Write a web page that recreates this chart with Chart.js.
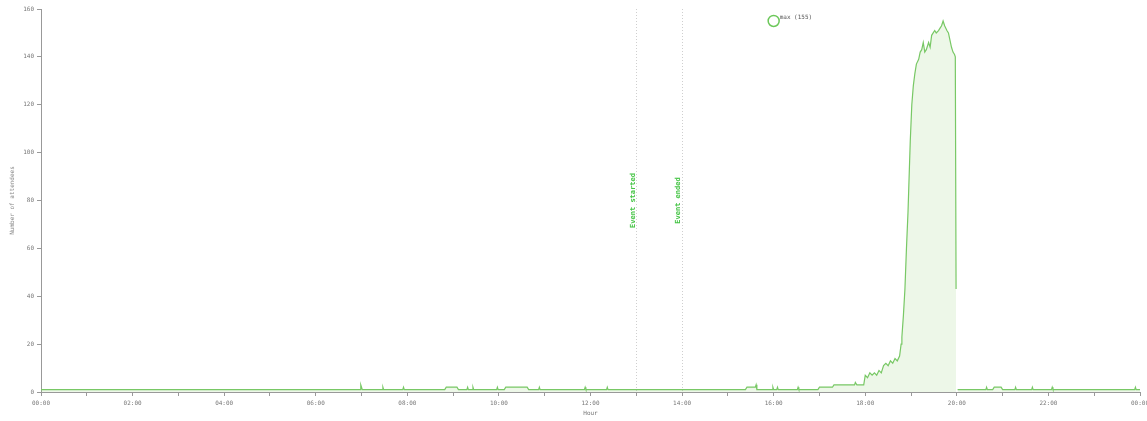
<!DOCTYPE html>
<html>
<head>
<meta charset="utf-8">
<script src="https://cdn.jsdelivr.net/npm/chart.js@4/dist/chart.umd.min.js"></script>
<style>
  body { margin: 0; background: #fff; }
  #wrap { width: 1147px; height: 421px; }
</style>
</head>
<body>
<div id="wrap"><canvas id="attendeesChart"></canvas></div>
<script>
// minutes since 00:00 and number of attendees
const minutes = [
  0, 418, 419, 421, 447, 448, 449, 474, 475, 476,
  529, 531, 545, 547, 558, 559, 560, 565, 566, 567,
  597, 598, 599, 607, 609, 637, 639, 652, 653, 654,
  712, 713, 714, 741, 742, 743, 923, 925, 936, 937, 938,
  958, 959, 960, 964, 965, 966, 991, 992, 993,
  1018, 1020, 1037, 1039, 1066, 1067, 1069, 1078,
  1080, 1083, 1086, 1089, 1092, 1095, 1098, 1101, 1104, 1107,
  1110, 1113, 1116, 1119, 1122, 1125, 1127, 1128, 1130, 1132,
  1134, 1136, 1137, 1139, 1141, 1143, 1145, 1147, 1150, 1152,
  1154, 1156, 1158, 1160, 1163, 1165, 1167, 1169, 1171, 1173,
  1176, 1178, 1180, 1182, 1184, 1187, 1189, 1191, 1193, 1195,
  1197, 1198, 1199, 1200, 1201,
  1238, 1239, 1240, 1247, 1249, 1258, 1260, 1276, 1277, 1278,
  1298, 1299, 1300, 1324, 1325, 1326, 1433, 1434, 1435, 1440
];
const attendees = [
  1, 1, 3, 1, 1, 2, 1, 1, 2, 1,
  1, 2, 2, 1, 1, 2, 1, 1, 2, 1,
  1, 2, 1, 1, 2, 2, 1, 1, 2, 1,
  1, 2, 1, 1, 2, 1, 1, 2, 2, 3, 1,
  1, 2, 1, 1, 2, 1, 1, 2, 1,
  1, 2, 2, 3, 3, 4, 3, 3,
  7, 6, 8, 7, 8, 7, 9, 8, 11, 12,
  11, 13, 12, 14, 13, 15, 20, 23, 32, 43,
  60, 75, 85, 105, 120, 128, 133, 137, 139, 142,
  143, 146, 142, 143, 146, 144, 149, 150, 151, 150,
  151, 152, 153, 155, 153, 151, 150, 147, 144, 142,
  141, 140, 43, null, 1,
  1, 2, 1, 1, 2, 2, 1, 1, 2, 1,
  1, 2, 1, 1, 2, 1, 1, 2, 1, 1
];

const maxMinute = 960;
const maxValue = 155;

const eventMinutes = [780, 840];
const eventLabels = ["Event started", "Event ended"];

const yTicks = [0, 20, 40, 60, 80, 100, 120, 140, 160];

const lineColor = "#78c865";
const textFont = "DejaVu Sans Mono";

function hourLabel(v) {
  const h = Math.round(v / 60) % 24;
  return (h < 10 ? "0" : "") + h + ":00";
}

// dotted event markers and the max label
const overlays = {
  id: "overlays",
  beforeDatasetsDraw(chart) {
    const { ctx, chartArea, scales } = chart;
    ctx.save();
    ctx.strokeStyle = "#cfcfcf";
    ctx.lineWidth = 1;
    ctx.setLineDash([1, 2]);
    eventMinutes.forEach((m) => {
      const x = Math.round(scales.x.getPixelForValue(m)) + 0.5;
      ctx.beginPath();
      ctx.moveTo(x, chartArea.top);
      ctx.lineTo(x, chartArea.bottom);
      ctx.stroke();
    });
    ctx.restore();
  },
  afterDatasetsDraw(chart) {
    const { ctx, scales } = chart;
    ctx.save();
    ctx.fillStyle = "#44c444";
    ctx.font = "bold 7px '" + textFont + "'";
    ctx.textAlign = "center";
    ctx.textBaseline = "bottom";
    eventMinutes.forEach((m, i) => {
      const x = scales.x.getPixelForValue(m);
      const y = scales.y.getPixelForValue(80);
      ctx.save();
      ctx.translate(x, y);
      ctx.rotate(-Math.PI / 2);
      ctx.fillText(eventLabels[i], 0, 0);
      ctx.restore();
    });

    ctx.fillStyle = "#555";
    ctx.font = "6px '" + textFont + "'";
    ctx.textAlign = "left";
    ctx.textBaseline = "middle";
    const mx = scales.x.getPixelForValue(maxMinute);
    const my = scales.y.getPixelForValue(maxValue);
    ctx.fillText("max (" + maxValue + ")", mx + 6, my - 4);
    ctx.restore();
  }
};

new Chart(document.getElementById("attendeesChart"), {
  type: "line",
  data: {
    datasets: [
      {
        label: "Attendees",
        data: minutes.map((m, i) => ({ x: m, y: attendees[i] })),
        borderColor: lineColor,
        backgroundColor: "rgba(150, 210, 120, 0.17)",
        borderWidth: 1.2,
        fill: "origin",
        pointRadius: 0,
        tension: 0,
        spanGaps: false
      },
      {
        type: "scatter",
        label: "max",
        data: [{ x: maxMinute, y: maxValue }],
        borderColor: "#6cc85a",
        backgroundColor: "#fff",
        borderWidth: 1.5,
        pointRadius: 5.5
      }
    ]
  },
  options: {
    responsive: true,
    maintainAspectRatio: false,
    animation: false,
    layout: { padding: { top: 9, right: 5, left: 0, bottom: 0 } },
    plugins: {
      legend: { display: false },
      tooltip: { enabled: false }
    },
    scales: {
      x: {
        type: "linear",
        min: 0,
        max: 1440,
        afterFit: (s) => {
          s.height = 29;
          s.paddingLeft = 0;
          s.paddingRight = 0;
        },
        afterBuildTicks: (s) => {
          const t = [];
          for (let v = 0; v <= 1440; v += 60) t.push({ value: v });
          s.ticks = t;
        },
        ticks: {
          autoSkip: false,
          maxRotation: 0,
          padding: 4,
          color: "#777",
          font: { family: textFont, size: 6 },
          callback: (v) => (v % 120 === 0 ? hourLabel(v) : "")
        },
        grid: { drawOnChartArea: false, tickLength: 4, color: "#999" },
        border: { color: "#999" },
        title: {
          display: true,
          text: "Hour",
          color: "#777",
          font: { family: textFont, size: 6 },
          padding: { top: 0, bottom: 4 }
        }
      },
      y: {
        min: 0,
        max: 160,
        afterFit: (s) => { s.width = 41; },
        afterBuildTicks: (s) => { s.ticks = yTicks.map((v) => ({ value: v })); },
        ticks: {
          padding: 3,
          color: "#777",
          font: { family: textFont, size: 6 }
        },
        grid: { drawOnChartArea: false, tickLength: 4, color: "#999" },
        border: { color: "#999" },
        title: {
          display: true,
          text: "Number of attendees",
          color: "#888",
          font: { family: textFont, size: 6 },
          padding: { top: 9, bottom: 0 }
        }
      }
    }
  },
  plugins: [overlays]
});
</script>
</body>
</html>
